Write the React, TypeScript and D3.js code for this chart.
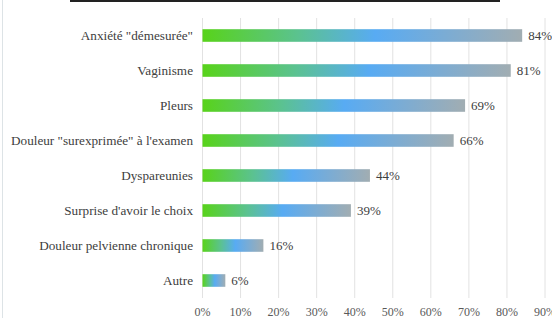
import { useEffect, useRef } from 'react';
import * as d3 from 'd3';

const categories = [
  'Anxiété "démesurée"',
  'Vaginisme',
  'Pleurs',
  'Douleur "surexprimée" à l\'examen',
  'Dyspareunies',
  "Surprise d'avoir le choix",
  'Douleur pelvienne chronique',
  'Autre',
];
const values = [84, 81, 69, 66, 44, 39, 16, 6];
const xTicks = [0, 10, 20, 30, 40, 50, 60, 70, 80, 90];

const W = 552;
const H = 318;

export default function App() {
  const svgRef = useRef<SVGSVGElement>(null);

  useEffect(() => {
    if (!svgRef.current) return;
    const svg = d3.select(svgRef.current);
    svg.selectAll('*').remove();

    const font = 'Liberation Serif';

    const x = d3.scaleLinear().domain([0, 90]).range([202.5, 545]);
    const y = d3.scaleBand<string>()
      .domain(categories)
      .range([18, 298])
      .paddingInner(0.64)
      .paddingOuter(0.32);

    // background
    svg.append('rect').attr('width', W).attr('height', H).attr('fill', '#fff');

    // cut-off title underline + frame edge
    svg.append('line')
      .attr('x1', 70).attr('x2', 500).attr('y1', 1).attr('y2', 1)
      .attr('stroke', '#222').attr('stroke-width', 2);
    svg.append('line')
      .attr('x1', 2.5).attr('x2', 2.5).attr('y1', 0).attr('y2', H)
      .attr('stroke', '#dde3e6').attr('stroke-width', 1);

    const defs = svg.append('defs');
    const grad = defs.append('linearGradient')
      .attr('id', 'barGrad')
      .attr('x1', '0%').attr('x2', '100%').attr('y1', '0%').attr('y2', '0%');
    const stops: [number, string][] = [
      [0, '#58d31a'],
      [0.3, '#5bc290'],
      [0.54, '#58abf3'],
      [1, '#a1adb2'],
    ];
    stops.forEach(([o, c]) => grad.append('stop').attr('offset', o).attr('stop-color', c));

    // gridlines
    svg.append('g')
      .selectAll('line')
      .data(xTicks)
      .enter().append('line')
      .attr('x1', d => x(d)).attr('x2', d => x(d))
      .attr('y1', 18).attr('y2', 298)
      .attr('stroke', '#e2e2e2').attr('stroke-width', 1);

    // bars
    svg.append('g')
      .selectAll('rect')
      .data(values)
      .enter().append('rect')
      .attr('x', x(0))
      .attr('y', (d, i) => y(categories[i])!)
      .attr('width', d => x(d) - x(0))
      .attr('height', y.bandwidth())
      .attr('fill', 'url(#barGrad)');

    // value labels
    svg.append('g')
      .selectAll('text')
      .data(values)
      .enter().append('text')
      .attr('x', d => x(d) + 6)
      .attr('y', (d, i) => y(categories[i])! + y.bandwidth() / 2)
      .attr('dy', '0.35em')
      .attr('font-family', font)
      .attr('font-size', 13)
      .attr('fill', '#404040')
      .text(d => `${d}%`);

    // category labels
    svg.append('g')
      .selectAll('text')
      .data(categories)
      .enter().append('text')
      .attr('x', 193)
      .attr('y', d => y(d)! + y.bandwidth() / 2)
      .attr('dy', '0.35em')
      .attr('text-anchor', 'end')
      .attr('font-family', font)
      .attr('font-size', 13.2)
      .attr('fill', '#404040')
      .text(d => d);

    // x tick labels
    svg.append('g')
      .selectAll('text')
      .data(xTicks)
      .enter().append('text')
      .attr('x', d => x(d))
      .attr('y', 312)
      .attr('dy', '0.35em')
      .attr('text-anchor', 'middle')
      .attr('font-family', font)
      .attr('font-size', 12)
      .attr('fill', '#595959')
      .text(d => `${d}%`);
  }, []);

  return (
    <div style={{ position: 'absolute', left: 0, top: 0 }}>
      <svg ref={svgRef} width={W} height={H} style={{ display: 'block' }} />
    </div>
  );
}
